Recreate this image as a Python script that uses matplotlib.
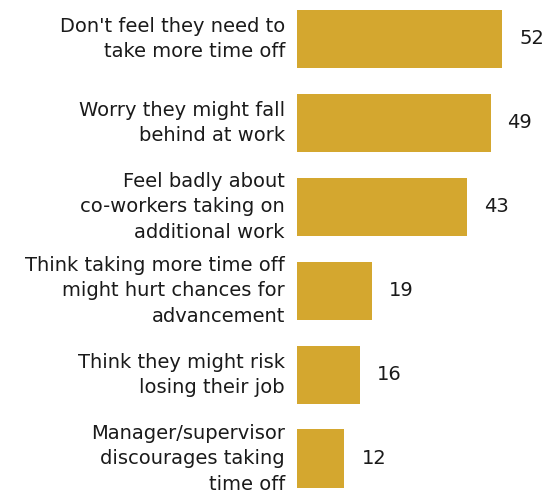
import matplotlib.pyplot as plt

# dados
categorias = [
    "Don't feel they need to\ntake more time off",
    "Worry they might fall\nbehind at work",
    "Feel badly about\nco-workers taking on\nadditional work",
    "Think taking more time off\nmight hurt chances for\nadvancement",
    "Think they might risk\nlosing their job",
    "Manager/supervisor\ndiscourages taking\ntime off",
]
valores = [52, 49, 43, 19, 16, 12]

cor_barra = '#D4A72F'
cor_texto = '#1a1a1a'

plt.rcParams['font.family'] = ['DejaVu Sans']

fig = plt.figure(figsize=(5.5, 4.95), dpi=100)
ax = fig.add_axes([297 / 550, 0, 253 / 550, 1])

pos = list(range(len(valores)))
ax.barh(pos, valores, height=0.7, color=cor_barra)

for y, v, cat in zip(pos, valores, categorias):
    ax.annotate(str(v), xy=(v, y), xytext=(17, 0), textcoords='offset pixels',
                va='center', ha='left', fontsize=14, color=cor_texto)
    ax.annotate(cat, xy=(0, y), xytext=(-12, 0),
                textcoords='offset pixels', ha='right', va='center',
                fontsize=14, color=cor_texto, linespacing=1.45,
                multialignment='right', annotation_clip=False)

ax.set_xlim(0, 253 / 3.95)
ax.set_ylim(5.43, -0.464)
ax.axis('off')

fig.savefig('out.png', dpi=100)
